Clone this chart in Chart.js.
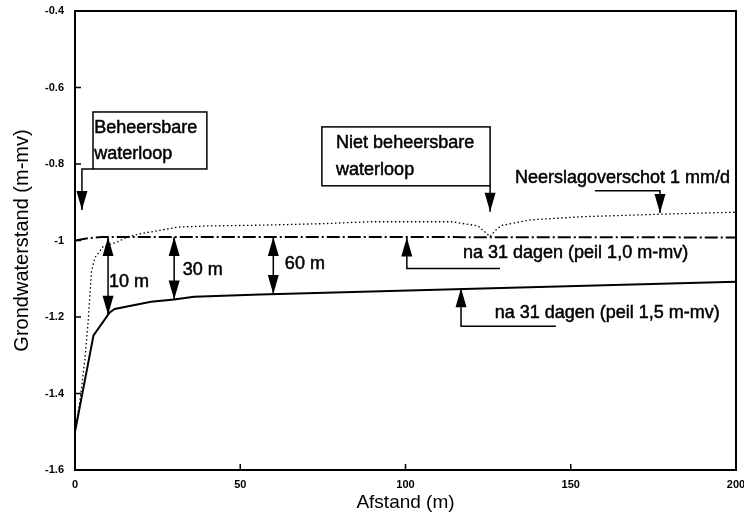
<!DOCTYPE html>
<html>
<head>
<meta charset="utf-8">
<script src="https://cdn.jsdelivr.net/npm/chart.js@4.4.1/dist/chart.umd.min.js"></script>
<style>
  html, body { margin: 0; padding: 0; background: #fff; }
  #wrap { width: 744px; height: 519px; }
</style>
</head>
<body>
<div id="wrap"><canvas id="grondwater-chart"></canvas></div>
<script>
var afstandTicks = [0, 50, 100, 150, 200];
var standTicks = [-0.4, -0.6, -0.8, -1, -1.2, -1.4, -1.6];

// peil 1,0 m-mv, na 31 dagen (streep-punt)
var peil10X = [0, 4, 8, 30, 100, 200];
var peil10Y = [-1.0, -0.994, -0.991, -0.991, -0.991, -0.992];

// peil 1,5 m-mv, na 31 dagen (doorgetrokken)
var peil15X = [0, 5.6, 10.5, 12, 23, 30, 36, 56, 129, 200];
var peil15Y = [-1.5, -1.248, -1.188, -1.179, -1.16, -1.154, -1.147, -1.141, -1.124, -1.108];

// neerslagoverschot 1 mm/d (gestippeld)
var neerslagX = [0, 1.5, 3, 4, 5, 6, 8.5, 12.5, 16, 20, 26, 31, 40, 56, 75, 89, 114, 122, 125.6, 127, 129, 138, 153, 178, 200];
var neerslagY = [-1.5, -1.42, -1.31, -1.21, -1.08, -1.045, -1.016, -1.005, -0.99, -0.982, -0.973, -0.965, -0.962, -0.96, -0.956, -0.951, -0.951, -0.962, -0.99, -0.975, -0.961, -0.946, -0.938, -0.931, -0.926];

// afstanden van de maatpijlen
var maatAfstand = [10, 30, 60];

function toPoints(xs, ys) {
  return xs.map(function (x, i) { return {x: x, y: ys[i]}; });
}

var fontFamily = '"Liberation Sans", Arial, Helvetica, sans-serif';
var labelFont = '18px ' + fontFamily;

function arrowHead(ctx, x, tipY, dir) {
  // dir 1 = naar beneden, -1 = naar boven
  ctx.beginPath();
  ctx.moveTo(x, tipY);
  ctx.lineTo(x - 5.5, tipY - dir * 19);
  ctx.lineTo(x + 5.5, tipY - dir * 19);
  ctx.closePath();
  ctx.fill();
}

function textHeavy(ctx, str, x, y) {
  ctx.fillText(str, x, y);
  ctx.strokeText(str, x, y);
}

var annotaties = {
  id: 'annotaties',
  afterDatasetsDraw: function (chart) {
    var ctx = chart.ctx;
    var sx = chart.scales.x, sy = chart.scales.y;
    var a = chart.chartArea;
    function X(v) { return sx.getPixelForValue(v); }
    function Y(v) { return sy.getPixelForValue(v); }

    ctx.save();
    ctx.strokeStyle = '#000';
    ctx.fillStyle = '#000';

    // kader en tickstreepjes naar binnen
    ctx.lineWidth = 2;
    ctx.strokeRect(a.left, a.top, a.right - a.left, a.bottom - a.top);
    ctx.lineWidth = 1.5;
    ctx.beginPath();
    standTicks.forEach(function (v) {
      ctx.moveTo(a.left, Y(v)); ctx.lineTo(a.left + 6, Y(v));
    });
    afstandTicks.forEach(function (v) {
      ctx.moveTo(X(v), a.bottom); ctx.lineTo(X(v), a.bottom - 6);
    });
    ctx.stroke();

    // tekstvakken
    ctx.font = labelFont;
    ctx.textBaseline = 'middle';
    ctx.textAlign = 'left';
    ctx.lineWidth = 0.5;
    var vakken = [
      {x0: 5.45, x1: 39.9, y0: -0.664, y1: -0.813, tx: 5.8, regels: ['Beheersbare', 'waterloop'], ry: [-0.706, -0.774]},
      {x0: 74.7, x1: 125.6, y0: -0.703, y1: -0.857, tx: 79, regels: ['Niet beheersbare', 'waterloop'], ry: [-0.745, -0.816]}
    ];
    vakken.forEach(function (b) {
      ctx.fillStyle = '#fff';
      ctx.fillRect(X(b.x0), Y(b.y0), X(b.x1) - X(b.x0), Y(b.y1) - Y(b.y0));
      ctx.fillStyle = '#000';
      ctx.lineWidth = 1.5;
      ctx.strokeRect(X(b.x0), Y(b.y0), X(b.x1) - X(b.x0), Y(b.y1) - Y(b.y0));
      ctx.lineWidth = 0.5;
      b.regels.forEach(function (r, i) { textHeavy(ctx, r, X(b.tx), Y(b.ry[i])); });
    });

    // verwijslijnen met pijlpunt
    var verwijzers = [
      {pad: [[5.45, -0.813], [2.1, -0.813], [2.1, -0.92]], dir: 1},
      {pad: [[125.6, -0.857], [125.6, -0.925]], dir: 1},
      {pad: [[157.3, -0.870], [177, -0.870], [177, -0.928]], dir: 1},
      {pad: [[128.6, -1.073], [100.4, -1.073], [100.4, -0.992]], dir: -1},
      {pad: [[145.5, -1.224], [116.8, -1.224], [116.8, -1.125]], dir: -1}
    ];
    ctx.lineWidth = 1.5;
    verwijzers.forEach(function (v) {
      ctx.beginPath();
      v.pad.forEach(function (p, i) {
        if (i === 0) ctx.moveTo(X(p[0]), Y(p[1]));
        else ctx.lineTo(X(p[0]), Y(p[1]));
      });
      ctx.stroke();
      var tip = v.pad[v.pad.length - 1];
      arrowHead(ctx, X(tip[0]), Y(tip[1]), v.dir);
    });

    // maatpijlen tussen de twee peilen
    maatAfstand.forEach(function (d) {
      var top = -0.991;
      var onder = peil15Y[0];
      for (var i = 1; i < peil15X.length; i++) {
        if (peil15X[i] >= d) {
          var t = (d - peil15X[i - 1]) / (peil15X[i] - peil15X[i - 1]);
          onder = peil15Y[i - 1] + t * (peil15Y[i] - peil15Y[i - 1]);
          break;
        }
      }
      ctx.lineWidth = 1.5;
      ctx.beginPath();
      ctx.moveTo(X(d), Y(top)); ctx.lineTo(X(d), Y(onder));
      ctx.stroke();
      arrowHead(ctx, X(d), Y(top), -1);
      arrowHead(ctx, X(d), Y(onder), 1);
    });

    // losse teksten
    ctx.lineWidth = 0.5;
    var teksten = [
      ['Neerslagoverschot 1 mm/d', 133.1, -0.837],
      ['na 31 dagen (peil 1,0 m-mv)', 117.4, -1.033],
      ['na 31 dagen (peil 1,5 m-mv)', 127, -1.19],
      ['10 m', 10.3, -1.108],
      ['30 m', 32.6, -1.077],
      ['60 m', 63.5, -1.062]
    ];
    teksten.forEach(function (t) { textHeavy(ctx, t[0], X(t[1]), Y(t[2])); });

    ctx.restore();
  }
};

var ctx = document.getElementById('grondwater-chart');

var grondwaterChart = new Chart(ctx, {
  type: 'scatter',
  data: {
    datasets: [
      {
        label: 'peil 1,0 m-mv',
        data: toPoints(peil10X, peil10Y),
        showLine: true, borderColor: '#000', borderWidth: 2,
        borderDash: [13, 3, 2, 3], pointRadius: 0, tension: 0
      }, {
        label: 'peil 1,5 m-mv',
        data: toPoints(peil15X, peil15Y),
        showLine: true, borderColor: '#000', borderWidth: 2,
        pointRadius: 0, tension: 0
      }, {
        label: 'Neerslagoverschot 1 mm/d',
        data: toPoints(neerslagX, neerslagY),
        showLine: true, borderColor: '#000', borderWidth: 1.3,
        borderDash: [1.5, 2.5], pointRadius: 0, tension: 0
      }
    ]
  },
  options: {
    responsive: true, maintainAspectRatio: false, animation: false,
    layout: {padding: {top: 11, right: 8, left: 0, bottom: 0}},
    plugins: {legend: {display: false}, tooltip: {enabled: false}},
    scales: {
      x: {
        type: 'linear', min: 0, max: 200,
        afterBuildTicks: function (s) { s.ticks = afstandTicks.map(function (v) { return {value: v}; }); },
        afterFit: function (s) { s.height = 49; s.paddingLeft = 0; s.paddingRight = 0; },
        grid: {display: false, drawTicks: false},
        border: {display: true, color: '#000', width: 2},
        ticks: {color: '#000', padding: 8, maxRotation: 0, font: {size: 11, weight: 'bold', family: fontFamily}},
        title: {display: true, text: 'Afstand (m)', color: '#000', padding: {top: 0, bottom: 5}, font: {size: 19, family: fontFamily}}
      },
      y: {
        type: 'linear', min: -1.6, max: -0.4,
        afterBuildTicks: function (s) { s.ticks = standTicks.map(function (v) { return {value: v}; }); },
        afterFit: function (s) { s.width = 75; s.paddingTop = 0; s.paddingBottom = 0; },
        grid: {display: false, drawTicks: false},
        border: {display: true, color: '#000', width: 2},
        ticks: {color: '#000', padding: 11, font: {size: 11, weight: 'bold', family: fontFamily},
          callback: function (v) { return String(Math.round(v * 10) / 10); }},
        title: {display: true, text: 'Grondwaterstand (m-mv)', color: '#000', padding: {top: 10, bottom: 0}, font: {size: 20, family: fontFamily}}
      }
    }
  },
  plugins: [annotaties]
});
</script>
</body>
</html>
